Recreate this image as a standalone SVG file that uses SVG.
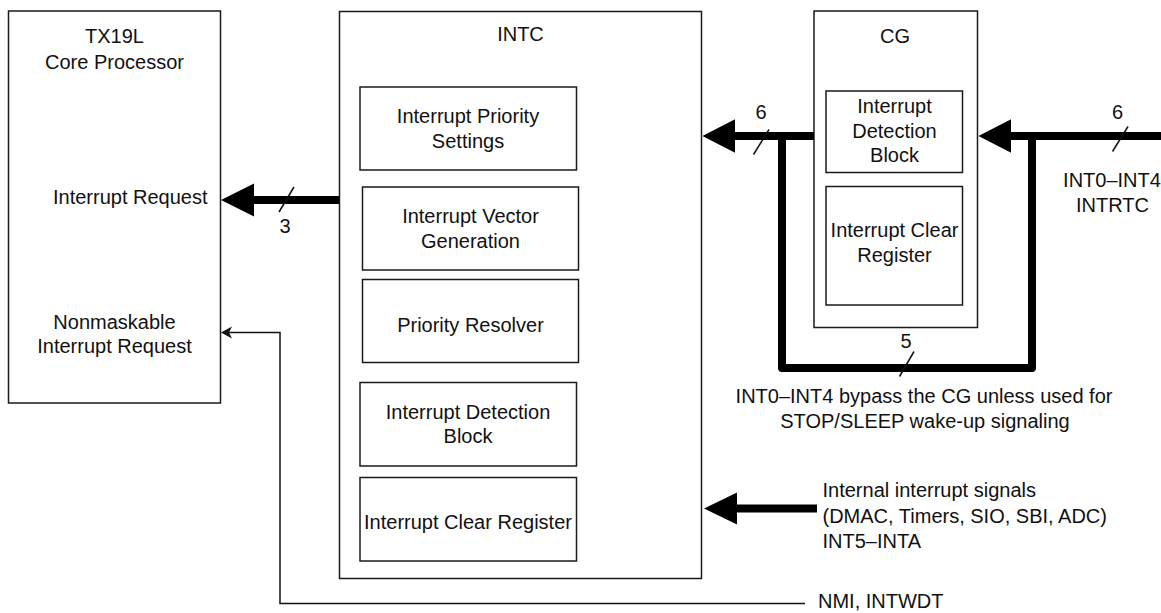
<svg xmlns="http://www.w3.org/2000/svg" width="1161" height="613" viewBox="0 0 1161 613">
<style>
.box{fill:#fff;stroke:#1a1a1a;stroke-width:1.5}
.t{font-family:"Liberation Sans",Arial,sans-serif;font-size:20px;fill:#111}
.c{text-anchor:middle}
.bus{fill:none;stroke:#000;stroke-width:8}
.thin{fill:none;stroke:#111;stroke-width:1.5}
.slash{stroke:#111;stroke-width:1.5}
</style>
<rect width="1161" height="613" fill="#fff"/>
<g id="tx19l">
<rect class="box" x="8.5" y="11" width="212" height="392"/>
<text class="t c" x="114.5" y="43">TX19L</text>
<text class="t c" x="114.5" y="69">Core Processor</text>
<text class="t" x="53" y="204">Interrupt Request</text>
<text class="t c" x="114.5" y="329">Nonmaskable</text>
<text class="t c" x="114.5" y="353">Interrupt Request</text>
</g>
<g id="intc">
<rect class="box" x="339.5" y="11.5" width="362" height="567"/>
<text class="t c" x="520.5" y="41">INTC</text>
<g id="intc-prio">
<rect class="box" x="360" y="87" width="216.5" height="83"/>
<text class="t c" x="468" y="123">Interrupt Priority</text>
<text class="t c" x="468" y="148">Settings</text>
</g>
<g id="intc-vec">
<rect class="box" x="362.5" y="187" width="216" height="83"/>
<text class="t c" x="470.5" y="223">Interrupt Vector</text>
<text class="t c" x="470.5" y="248">Generation</text>
</g>
<g id="intc-res">
<rect class="box" x="362.5" y="279.5" width="216" height="83"/>
<text class="t c" x="470.5" y="332">Priority Resolver</text>
</g>
<g id="intc-det">
<rect class="box" x="360" y="382.5" width="216.5" height="83.5"/>
<text class="t c" x="468" y="419">Interrupt Detection</text>
<text class="t c" x="468" y="443">Block</text>
</g>
<g id="intc-clr">
<rect class="box" x="360" y="477.5" width="216.5" height="83.5"/>
<text class="t c" x="468" y="529">Interrupt Clear Register</text>
</g>
</g>
<g id="cg">
<rect class="box" x="814" y="11" width="163.5" height="316.5"/>
<text class="t c" x="895" y="43">CG</text>
<g id="cg-det">
<rect class="box" x="826" y="91" width="136.5" height="81.5"/>
<text class="t c" x="894.5" y="113">Interrupt</text>
<text class="t c" x="894.5" y="138">Detection</text>
<text class="t c" x="894.5" y="162">Block</text>
</g>
<g id="cg-clr">
<rect class="box" x="826" y="186.5" width="136.5" height="118.5"/>
<text class="t c" x="894.5" y="237">Interrupt Clear</text>
<text class="t c" x="894.5" y="262">Register</text>
</g>
</g>
<g id="connectors">
<line class="bus" x1="339" y1="200" x2="253" y2="200"/>
<path d="M221,200 L254,183.5 L254,216.5 Z" fill="#000"/>
<line class="slash" x1="279" y1="212" x2="294" y2="187"/>
<text class="t c" x="285" y="233">3</text>
<line class="bus" x1="814" y1="136" x2="734" y2="136"/>
<path d="M702.5,136 L735,119.3 L735,152.7 Z" fill="#000"/>
<line class="slash" x1="753.5" y1="154.5" x2="769" y2="129.5"/>
<text class="t c" x="761" y="119">6</text>
<path class="bus" d="M782,136 V368 H1032 V136" stroke-linejoin="round"/>
<line class="slash" x1="899.5" y1="376.5" x2="914" y2="351.5"/>
<text class="t c" x="906" y="348">5</text>
<text class="t c" x="924" y="403">INT0–INT4 bypass the CG unless used for</text>
<text class="t c" x="925" y="428">STOP/SLEEP wake-up signaling</text>
<line class="bus" x1="1161" y1="136" x2="1010" y2="136"/>
<path d="M978.5,136 L1011,119.3 L1011,152.7 Z" fill="#000"/>
<line class="slash" x1="1112.5" y1="151.5" x2="1128" y2="126.5"/>
<text class="t c" x="1117.5" y="119">6</text>
<text class="t c" x="1112" y="187">INT0–INT4</text>
<text class="t c" x="1112.5" y="212">INTRTC</text>
<line class="bus" x1="817" y1="508.5" x2="735" y2="508.5"/>
<path d="M704,508.5 L737,492.5 L737,524.5 Z" fill="#000"/>
<text class="t" x="822.5" y="497">Internal interrupt signals</text>
<text class="t" x="822.5" y="522.5">(DMAC, Timers, SIO, SBI, ADC)</text>
<text class="t" x="822.5" y="547.5">INT5–INTA</text>
<path class="thin" d="M805,603.5 H280 V332.5 H224"/>
<path d="M221,332.5 L232,326.5 L229,332.5 L232,338.5 Z" fill="#111"/>
<text class="t" x="818" y="608">NMI, INTWDT</text>
</g>
</svg>
